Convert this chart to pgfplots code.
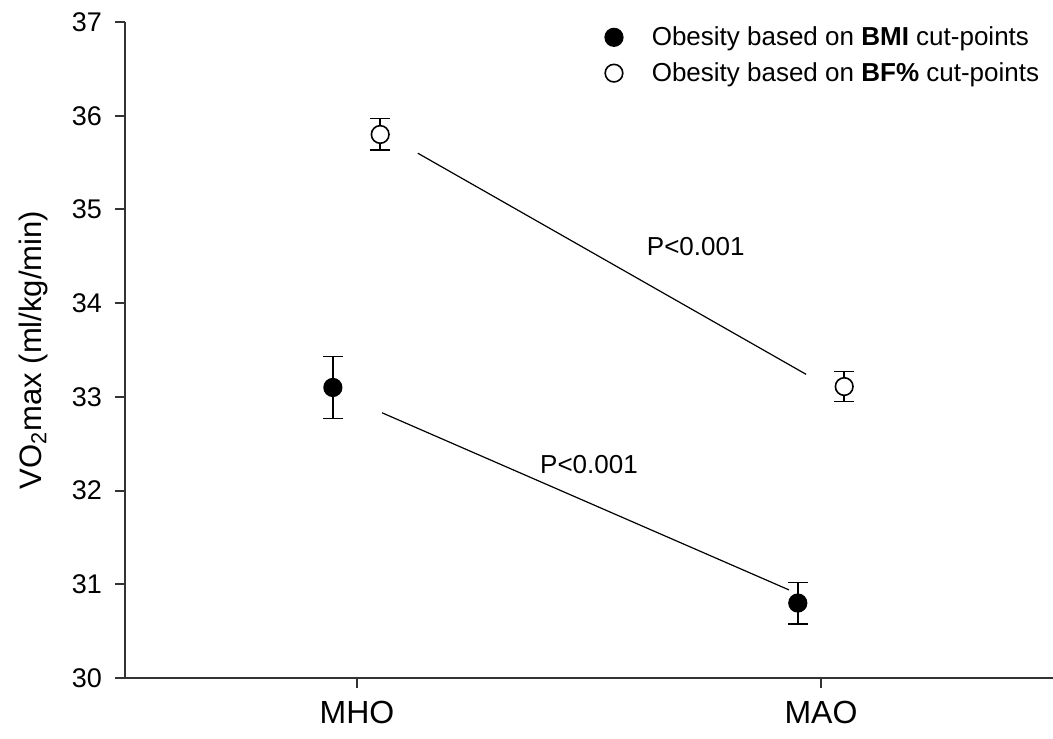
\documentclass[border=0pt]{standalone}
\usepackage{pgfplots}
\pgfplotsset{compat=1.18}
\usepackage{fontspec}
\setmainfont{Liberation Sans}
\begin{document}
\begin{tikzpicture}
\useasboundingbox (-62.5pt,-30pt) rectangle (464pt,339pt);
\begin{axis}[
  at={(0,0)}, anchor=south west,
  scale only axis, width=464pt, height=328pt,
  xmin=0.5, xmax=2.5, ymin=30, ymax=37,
  axis x line=bottom, axis y line=left,
  axis line style={-, line width=1.2pt, draw=black!80},
  xtick={1,2}, xticklabels={MHO,MAO},
  ytick={30,31,32,33,34,35,36,37},
  tick align=outside,
  major tick length=5pt,
  tick style={line width=1pt, black!80},
  /pgf/number format/assume math mode=true,
  yticklabel style={font=\fontsize{13.5}{15}\selectfont, xshift=-3pt},
  xticklabel style={font=\fontsize{16}{18}\selectfont, yshift=-3pt},
  ylabel={VO\textsubscript{2}max (ml/kg/min)},
  every axis y label/.style={at={(axis description cs:-0.099,0.5)}, rotate=90, anchor=center, font=\fontsize{15.5}{18}\selectfont},
  legend style={draw=none, fill=none, at={(rel axis cs:0.517,1.0)}, anchor=north west,
    font=\fontsize{13}{15}\selectfont, row sep=3pt, inner sep=0pt,
    /tikz/every odd column/.append style={column sep=12.5pt}},
  legend cell align=left,
  clip=false,
]
\addplot[only marks, mark=*, mark size=4.4pt,
  mark options={fill=black, draw=black, line width=0.8pt},
  error bars/.cd, y dir=both, y explicit,
  error bar style={line width=0.9pt, black},
  error mark options={rotate=90, mark size=5pt, line width=0.9pt, black}]
  table[x=x, y=y, y error=e] {
x y e
0.948 33.10 0.33
1.950 30.80 0.22
};
\addlegendentry{Obesity based on \textbf{BMI} cut-points}
\addplot[only marks, mark=*, mark size=4.4pt,
  mark options={fill=white, draw=black, line width=0.8pt},
  error bars/.cd, y dir=both, y explicit,
  error bar style={line width=0.9pt, black},
  error mark options={rotate=90, mark size=5pt, line width=0.9pt, black}]
  table[x=x, y=y, y error=e] {
x y e
1.050 35.80 0.17
2.050 33.11 0.16
};
\addlegendentry{Obesity based on \textbf{BF\%} cut-points}
\addplot[black, line width=0.6pt, no markers, forget plot] coordinates {(1.131,35.60) (1.968,33.24)};
\addplot[black, line width=0.6pt, no markers, forget plot] coordinates {(1.054,32.83) (1.931,30.94)};
\node[font=\fontsize{13}{15}\selectfont] at (axis cs:1.73,34.6) {P<0.001};
\node[font=\fontsize{13}{15}\selectfont] at (axis cs:1.50,32.28) {P<0.001};
\end{axis}
\end{tikzpicture}
\end{document}
